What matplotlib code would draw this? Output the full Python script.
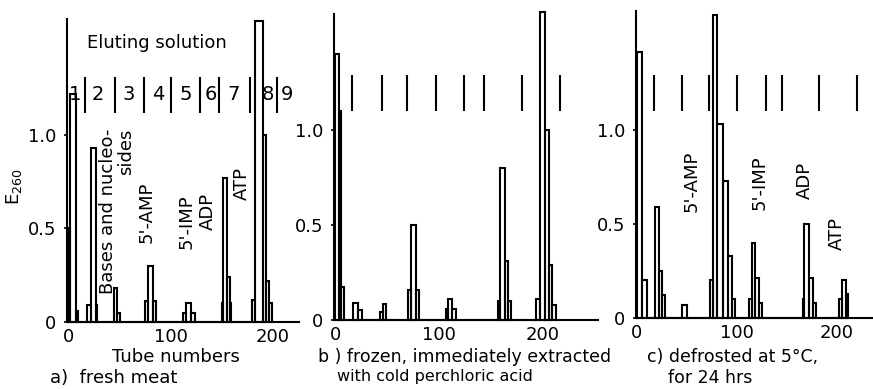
import matplotlib
matplotlib.use("Agg")
import matplotlib.pyplot as plt

plt.rcParams['font.family'] = ['DejaVu Sans']

# step profiles: bar edges (tube numbers) and E260 heights, one list per panel
edges_a = [0, 2, 8, 9.5, 19, 22, 27, 28.7, 45, 48.3, 51, 75.5, 78, 82.7, 86,
           112.4, 115, 120.3, 123.5, 150.7, 151.6, 155.6, 158, 159,
           180, 183, 190, 193, 196, 199]
heights_a = [0.5, 1.22, 0.06, 0, 0.09, 0.93, 0.09, 0, 0.18, 0.05, 0, 0.11, 0.30, 0.11, 0,
             0.05, 0.10, 0.05, 0, 0.10, 0.77, 0.24, 0.10, 0,
             0.12, 1.61, 1.0, 0.22, 0.10]

edges_b = [0, 3.8, 5.4, 8.6, 17.6, 22.4, 25.6, 43.3, 45.8, 48.7, 70.5, 72.8, 77.6, 81,
           106.4, 108.3, 113, 116, 157, 158.7, 163.5, 166.7, 169,
           193, 197, 202, 206, 209, 213]
heights_b = [1.40, 1.10, 0.175, 0, 0.09, 0.05, 0, 0.04, 0.085, 0, 0.16, 0.50, 0.16, 0,
             0.06, 0.11, 0.06, 0, 0.10, 0.80, 0.31, 0.10, 0,
             0.11, 1.62, 1.0, 0.29, 0.08]

edges_c = [0, 4.7, 9.7, 17.5, 21.5, 25, 28, 44.7, 50.3, 73, 75.7, 79.7, 85.7, 90.7, 94.7, 98,
           112.3, 114.7, 118, 122, 124.7, 165.7, 167.3, 172.3, 176.3, 179,
           202.3, 204.7, 208.7, 211.3]
heights_c = [1.41, 0.20, 0, 0.59, 0.25, 0.12, 0, 0.07, 0, 0.20, 1.61, 1.03, 0.73, 0.33, 0.10,
             0, 0.10, 0.40, 0.21, 0.08, 0, 0.10, 0.50, 0.21, 0.08,
             0, 0.10, 0.20, 0.13]

# eluting solution changes (tube numbers)
dividers_a = [17, 46, 74, 101, 129, 147, 178, 204]
dividers_b = [16.7, 45, 69.5, 97, 124, 143, 180, 216]
dividers_c = [17, 44.7, 72.3, 99.7, 128.7, 145.3, 182.3, 219.7]
solution_labels = ['1', '2', '3', '4', '5', '6', '7', '8', '9']
solution_label_x = [7, 29.4, 59, 88, 115, 139, 162, 195, 214]

# peak names: (text, tube, bottom of text)
peaks_a = [("Bases and nucleo-\nsides", 48, 0.15), ("5'-AMP", 77, 0.42),
           ("5'-IMP", 116, 0.39), ("ADP", 137, 0.49), ("ATP", 169.5, 0.65)]
peaks_c = [("5'-AMP", 55, 0.565), ("5'-IMP", 123, 0.575), ("ADP", 168, 0.63), ("ATP", 200, 0.36)]

yticks = [0, 0.5, 1.0]
ytick_labels = ['0', '0.5', '1.0']
xticks = [0, 100, 200]
xtick_labels = ['0', '100', '200']

W, H = 873, 389
fig = plt.figure(figsize=(W / 100, H / 100), dpi=100)


def px_axes(left, right, base, top):
    return fig.add_axes([left / W, 1 - base / H, (right - left) / W, (base - top) / H])


def fig_text(x, y, s, **kw):
    fig.text(x / W, 1 - y / H, s, **kw)


ax_a = px_axes(67, 298.5, 322, 19)
ax_b = px_axes(334, 598, 320, 14)
ax_c = px_axes(636, 873, 318, 11)

panels = [(ax_a, edges_a, heights_a, dividers_a, (-1, 225), 1.62, (1.12, 1.31)),
          (ax_b, edges_b, heights_b, dividers_b, (-1, 253), 1.61, (1.10, 1.29)),
          (ax_c, edges_c, heights_c, dividers_c, (-1, 236), 1.63, (1.10, 1.29))]

for ax, edges, heights, dividers, xl, ytop, dy in panels:
    widths = [edges[i + 1] - edges[i] for i in range(len(heights))]
    ax.bar(edges[:-1], heights, width=widths, align='edge', fill=False,
           edgecolor='black', linewidth=1.5, clip_on=False)
    ax.vlines(dividers, dy[0], dy[1], color='black', linewidth=1.5)
    ax.set_xlim(*xl)
    ax.set_ylim(0, ytop)
    for s in ['top', 'right']:
        ax.spines[s].set_visible(False)
    for s in ['left', 'bottom']:
        ax.spines[s].set_linewidth(1.5)
    ax.set_yticks(yticks)
    ax.set_yticklabels(ytick_labels)
    ax.set_xticks(xticks)
    ax.set_xticklabels(xtick_labels)
    ax.tick_params(axis='y', length=2.5, width=1.2, pad=5, labelsize=13)
    ax.tick_params(axis='x', length=0, pad=4, labelsize=13)

# panel a extras
ax_a.text(87, 1.49, "Eluting solution", ha='center', va='center', fontsize=13)
for lab, x in zip(solution_labels, solution_label_x):
    ax_a.text(x, 1.215, lab, ha='center', va='center', fontsize=14)
for txt, x, y in peaks_a:
    ax_a.text(x, y, txt, rotation=90, ha='center', va='bottom', fontsize=13,
              multialignment='right', linespacing=1.0)
for txt, x, y in peaks_c:
    ax_c.text(x, y, txt, rotation=90, ha='center', va='bottom', fontsize=13)

fig_text(14, 187, "E$_{260}$", rotation=90, ha='center', va='center', fontsize=13)
fig_text(176, 357, "Tube numbers", ha='center', va='center', fontsize=13)
fig_text(50, 378, "a)  fresh meat", ha='left', va='center', fontsize=13)
fig_text(318, 357, "b ) frozen, immediately extracted", ha='left', va='center', fontsize=12.5)
fig_text(435, 377, "with cold perchloric acid", ha='center', va='center', fontsize=11.5)
fig_text(647, 357, "c) defrosted at 5°C,", ha='left', va='center', fontsize=12.5)
fig_text(710, 378, "for 24 hrs", ha='center', va='center', fontsize=12.5)

fig.savefig("out.png", dpi=100, facecolor='white')
